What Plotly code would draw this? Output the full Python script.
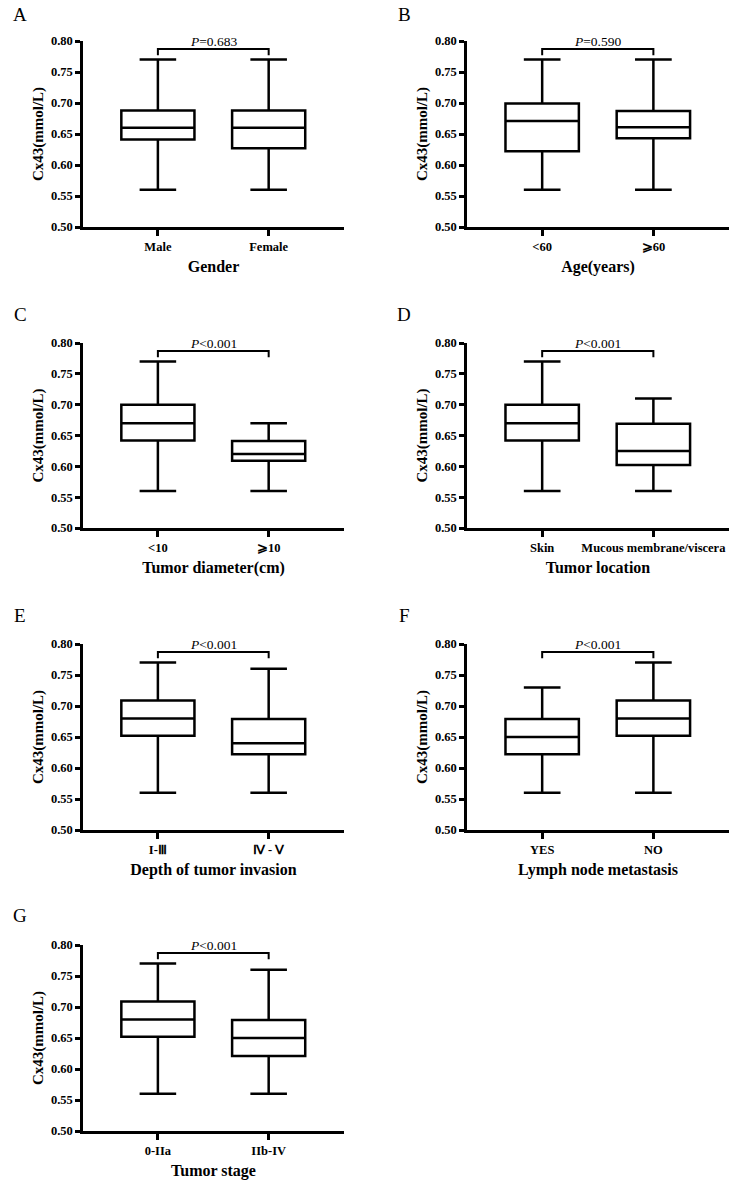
import plotly.graph_objects as go

W, H = 744, 1185

panel_letters = ["A", "B", "C", "D", "E", "F", "G"]
categories = [
    ["Male", "Female"],
    ["<60", "⩾60"],
    ["<10", "⩾10"],
    ["Skin", "Mucous membrane/viscera"],
    ["I-Ⅲ", "Ⅳ - Ⅴ"],
    ["YES", "NO"],
    ["0-IIa", "IIb-IV"],
]
x_titles = ["Gender", "Age(years)", "Tumor diameter(cm)", "Tumor location",
            "Depth of tumor invasion", "Lymph node metastasis", "Tumor stage"]
p_values = ["=0.683", "=0.590", "<0.001", "<0.001", "<0.001", "<0.001", "<0.001"]

lower = [[0.56, 0.56], [0.56, 0.56], [0.56, 0.56], [0.56, 0.56], [0.56, 0.56], [0.56, 0.56], [0.56, 0.56]]
q1 = [[0.641, 0.627], [0.622, 0.643], [0.642, 0.609], [0.642, 0.602], [0.652, 0.622], [0.622, 0.652], [0.652, 0.621]]
median = [[0.66, 0.66], [0.671, 0.661], [0.67, 0.62], [0.67, 0.625], [0.68, 0.64], [0.65, 0.68], [0.68, 0.65]]
q3 = [[0.688, 0.688], [0.699, 0.687], [0.70, 0.641], [0.70, 0.669], [0.709, 0.679], [0.679, 0.709], [0.709, 0.679]]
upper = [[0.77, 0.77], [0.77, 0.77], [0.77, 0.67], [0.77, 0.71], [0.77, 0.76], [0.73, 0.77], [0.77, 0.76]]

y_ticks = [0.50, 0.55, 0.60, 0.65, 0.70, 0.75, 0.80]
y_range = [0.50, 0.80]
bracket_y = 0.787
bracket_drop = 0.010

# pixel layout
col_x = [(83, 344), (467, 729)]
row_y = [(41, 227), (343, 528), (644, 830), (945, 1131)]

SERIF = "Times New Roman, Liberation Serif, serif"

fig = go.Figure()
annotations = []
shapes = []

for i in range(7):
    r, c = divmod(i, 2)
    n = "" if i == 0 else str(i + 1)
    xa, ya = "x" + n, "y" + n
    x0, x1 = col_x[c]
    y0, y1 = row_y[r]
    fig.add_trace(go.Box(
        x=categories[i], q1=q1[i], median=median[i], q3=q3[i],
        lowerfence=lower[i], upperfence=upper[i],
        boxpoints=False, width=0.66, whiskerwidth=0.5,
        fillcolor="white", line=dict(color="black", width=2.5),
        xaxis=xa, yaxis=ya, showlegend=False, hoverinfo="skip",
    ))
    fig.update_layout({
        "xaxis" + n: dict(
            domain=[x0 / W, x1 / W], anchor=ya, type="category", automargin=False,
            categoryorder="array", categoryarray=categories[i],
            range=[-0.676, 1.68], showline=True, linecolor="black", linewidth=2.5,
            ticks="outside", ticklen=6, tickwidth=2.5, tickcolor="black",
            showgrid=False, zeroline=False,
            tickfont=dict(family=SERIF, size=12.5, color="black", weight="bold"),
            title=dict(text=x_titles[i], standoff=9,
                       font=dict(family=SERIF, size=16, color="black", weight="bold")),
        ),
        "yaxis" + n: dict(
            domain=[1 - y1 / H, 1 - y0 / H], anchor=xa, range=y_range, automargin=False,
            tickvals=y_ticks, ticktext=[f"{v:.2f}" for v in y_ticks],
            showline=True, linecolor="black", linewidth=2.5,
            ticks="outside", ticklen=5, tickwidth=2.5, tickcolor="black",
            showgrid=False, zeroline=False,
            tickfont=dict(family=SERIF, size=12.5, color="black", weight="bold"),
            title=dict(text="Cx43(mmol/L)", standoff=4,
                       font=dict(family=SERIF, size=15, color="black", weight="bold")),
        ),
    })
    # significance bracket
    shapes.append(dict(
        type="path", xref=xa, yref=ya,
        path=f"M 0,{bracket_y - bracket_drop} L 0,{bracket_y} L 1,{bracket_y} L 1,{bracket_y - bracket_drop}",
        line=dict(color="black", width=2),
    ))
    annotations.append(dict(
        x=0.5, y=bracket_y, xref=xa, yref=ya, xanchor="center", yanchor="bottom",
        text=f"<i>P</i>{p_values[i]}", showarrow=False, yshift=-2,
        font=dict(family=SERIF, size=13.5, color="black"),
    ))
    # panel letter
    lx = 20 if c == 0 else 404
    ly = 15 + 300 * r
    annotations.append(dict(
        x=lx / W, y=1 - ly / H, xref="paper", yref="paper",
        xanchor="center", yanchor="middle", text=panel_letters[i], showarrow=False,
        font=dict(family=SERIF, size=19, color="black"),
    ))

fig.update_layout(
    width=W, height=H, margin=dict(l=0, r=0, t=0, b=0),
    paper_bgcolor="white", plot_bgcolor="white",
    annotations=annotations, shapes=shapes, showlegend=False,
)

fig.write_html("out.html", config={"displayModeBar": False},
               post_script="document.body.style.margin='0';document.body.style.overflow='hidden';")
